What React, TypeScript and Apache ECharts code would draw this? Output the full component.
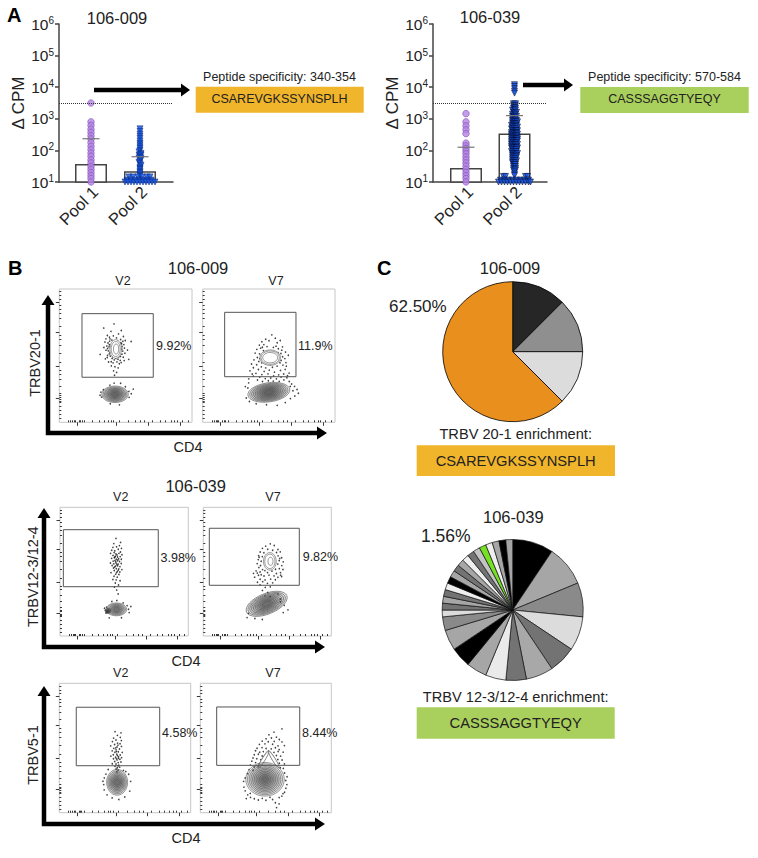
import React, { useEffect, useRef } from "react";
import * as echarts from "echarts";

const FONT = "Liberation Sans";
const INK = "#222";

// ---------- Panel A data ----------
const poolNames = ["Pool 1", "Pool 2"];
const threshold = 3162;
const aLeftPositions = [32, 81];
const aLeftMeans = [37, 22];
const aLeftSd = [234, 63];
const aLeftPool1 = [3162, 800, 620, 470, 370, 290, 230, 175, 135, 105, 82, 65, 50, 40, 31, 25, 20, 16, 13, 10];
const aLeftPool2Rows: [number, number[]][] = [
  [480, [0]], [400, [0]], [330, [0]], [280, [0]], [240, [0]], [200, [0]], [170, [0]], [150, [0]],
  [130, [0]], [115, [0]], [100, [0]], [90, [-1]], [80, [1]], [72, [-1, 1]], [65, [0]],
  [58, [-1, 1]], [52, [1]], [47, [0]], [42, [-1]], [38, [0]], [34, [1]], [30, [0]], [27, [0]],
  [25, [0]], [22, [0]], [20, [0]], [18, [0]], [16, [0]],
  [14.5, [-11, -7, -2, 2, 7, 10]],
  [11.5, [-13, -9, -5, -1, 3, 7, 11]],
  [10, [-15, -12, -9, -6, -3, 0, 3, 6, 9, 12, 15]],
];
const aRightPositions = [33, 81.5];
const aRightMeans = [27.5, 343];
const aRightSd = [126, 1260];
const aRightPool1 = [1460, 800, 600, 450, 340, 170, 140, 115, 95, 78, 62, 50, 40, 32, 25, 20, 16, 13, 10];
const aRightPool2Rows: [number, number[]][] = [
  [12000, [0]], [10500, [0]], [9000, [0]], [7500, [0]], [6500, [0]],
  [3000, [-1, 1]], [2600, [-1, 1]], [2200, [-1, 0, 1]], [1900, [-2, 0, 1]], [1600, [-1, 0, 2]],
  [1400, [-2, 0, 1]], [1200, [-2, -1, 0, 2]], [1050, [-2, 0, 1]], [900, [-2, -1, 1, 2]],
  [800, [-2, 0, 1, 3]], [700, [-2, -1, 0, 2]], [620, [-3, -1, 1, 2]], [550, [-2, -1, 1, 3]],
  [480, [-3, -2, 0, 2]], [420, [-2, -1, 1, 2, 3]], [370, [-3, -1, 1, 2]], [330, [-3, -2, 0, 2, 3]],
  [290, [-3, -1, 1, 2]], [260, [-3, -2, -1, 1, 3]], [230, [-3, -1, 1, 2, 3]], [200, [-3, -2, 0, 2, 3]],
  [175, [-3, -1, 1, 2]], [155, [-3, -2, 0, 1, 3]], [135, [-3, -1, 1, 2]], [120, [-3, -2, 0, 2, 3]],
  [105, [-2, -1, 1, 2]], [92, [-3, -1, 1, 2]], [80, [-2, -1, 1, 3]], [70, [-2, -1, 1, 2]], [62, [-2, 0, 2]],
  [54, [-2, -1, 1]], [47, [-2, 0, 2]], [41, [-2, -1, 1]], [36, [-1, 0, 1]], [31, [-1, 1]], [27, [-1, 1]],
  [24, [-1, 1]], [21, [0]], [18, [0]], [16, [0]],
  [15, [-11, -9, 11, 13]],
  [11.5, [-14, -10, -6, -2, 2, 6, 10, 14]],
  [10, [-16, -13, -10, -7, -4, -1, 2, 5, 8, 11, 14, 16]],
];

// ---------- Panel B data: gates [x0,y0,x1,y1], contours [cx,cy,rx,ry,rotation,fillAlpha], dots [x,y] ----------
const flowMajorX = [13.5, 43, 67, 91];
const flowMinorX = [7, 8.5, 10, 11, 12, 15, 16, 17, 19, 25, 30, 34, 37, 39, 41, 45, 52, 57, 61, 64, 70, 76, 80, 84, 87, 89, 93, 97];
const flowMajorY = [18, 42, 67.5, 90];
const flowMinorY = [3, 6, 9, 12, 15, 16, 17, 19, 20, 22, 27, 32, 36, 39, 45, 52, 58, 62, 65, 72, 78, 82, 85, 88, 92, 95, 98];

const gate1 = [[17.1, 33.8, 70.8, 81.5]];
const contours1 = [
  [42.5, 55, 4.4, 7, 0, 0], [42.5, 55, 3.4, 5.6, 0, 0], [42.8, 55, 2, 3.8, 0, 0],
  [42, 21, 10, 6.2, 0, 0.1], [42, 21, 9, 5.5, 0, 0.1], [42, 21, 8, 4.9, 0, 0.12], [42, 21, 7, 4.3, 0, 0.12], [42, 21, 6, 3.7, 0, 0.12],
  [42, 21, 5, 3.1, 0, 0.12], [42, 21, 4, 2.5, 0, 0.12], [42, 21, 3, 1.9, 0, 0.12], [42, 21, 2, 1.2, 0, 0.12],
];
const dots1 = [
  [33.5, 70.7], [41.2, 73.8], [44.6, 66.3], [38.9, 68.2], [46.7, 68.9], [36.2, 65.1], [48.3, 64.4], [35.1, 62.6], [37.8, 63.9], [39.6, 61.7], [43.1, 63.3], [46.2, 62.1],
  [47.9, 60.8], [34.4, 60.2], [36.7, 59.5], [37.9, 60.9], [48.6, 58.3], [49.7, 61.4], [35.8, 57.2], [33.6, 56.1], [37.4, 56.6], [47.3, 56.9], [49.1, 55.7], [51.4, 54.2],
  [35.2, 54.1], [36.9, 53.6], [37.6, 51.3], [47.8, 53.4], [49.4, 51.8], [36.3, 50.2], [38.4, 49.7], [46.1, 49.4], [48.2, 48.8], [34.7, 47.6], [39.8, 47.9], [41.3, 46.8],
  [44.2, 47.3], [45.9, 46.4], [37.1, 45.2], [40.5, 44.6], [43.4, 45.3], [45.2, 43.9], [39.2, 42.3], [41.9, 41.7], [44.3, 40.8], [40.9, 38.6], [43.2, 37.4], [41.6, 35.3],
  [30.8, 50.9], [52.3, 47.2], [54.1, 60.6], [38.3, 52.6], [47.2, 51.1], [36.1, 48.6], [48.9, 46.3], [39.1, 45.4], [46.6, 44.8], [38.2, 62.6], [46.4, 59.7], [40.7, 64.8],
  [43.9, 60.9], [37.7, 58.2], [47.1, 54.8], [36.4, 55.4], [38.7, 56.9], [46.9, 58.9], [44.8, 49.1], [40.2, 49.3], [42.6, 47.9],
  [30.7, 20.3], [31.3, 22.6], [31.9, 18.9], [33.2, 24.4], [49.8, 26.7], [52.4, 23.2], [46.2, 29.3], [38.1, 27.9], [52.6, 18.7], [45.3, 13.1], [38.4, 13.9], [54.2, 21.4], [55.7, 24.9], [41.3, 29.4],
];
const gate2 = [[16.6, 34.2, 70.5, 82.5]];
const contours2 = [
  [51, 48.5, 7.8, 5.8, 0, 0], [51, 48.5, 6.9, 5, 0, 0], [51, 48.5, 5.6, 3.9, 0, 0],
  [50, 22.5, 16, 7.2, 8, 0.08], [50, 22.5, 14.6, 6.5, 8, 0.1], [50, 22.5, 13.2, 5.9, 8, 0.1], [50, 22.5, 11.8, 5.3, 8, 0.1], [50, 22.5, 10.4, 4.7, 8, 0.1],
  [50, 22.5, 9, 4.1, 8, 0.12], [50, 22.5, 7.6, 3.5, 8, 0.12], [50, 22.5, 6.2, 2.9, 8, 0.12], [50, 22.5, 4.8, 2.2, 8, 0.12], [50, 22.5, 3.4, 1.5, 8, 0.12],
];
const dots2 = [
  [52.2, 65.6], [47.6, 62.3], [54.9, 63.1], [44.7, 60.4], [50.1, 61.2], [56.3, 59.7], [58.6, 61.4], [42.8, 57.9], [46.2, 58.3], [55.4, 57.1], [60.3, 56.6], [40.9, 54.7],
  [43.8, 55.6], [45.9, 53.8], [57.2, 55.2], [59.7, 54.1], [62.6, 52.7], [39.6, 51.9], [42.9, 51.3], [59.1, 51.6], [41.3, 48.6], [43.3, 47.7], [60.4, 49.2], [62.1, 47.8],
  [64.7, 50.3], [38.7, 46.8], [42.4, 45.6], [59.3, 46.4], [62.9, 44.8], [36.9, 43.7], [40.8, 43.2], [44.3, 41.6], [47.6, 40.8], [52.7, 41.3], [56.2, 42.1], [60.6, 42.9],
  [38.3, 40.9], [42.1, 39.6], [46.4, 38.2], [50.3, 39.1], [54.2, 37.6], [58.8, 38.9], [62.3, 39.7], [35.7, 38.6], [40.2, 36.7], [44.7, 35.8], [49.3, 36.3], [53.6, 34.7],
  [57.4, 35.6], [61.2, 36.2], [65.3, 36.9], [38.2, 34.6], [43.1, 33.9], [47.3, 32.8], [51.4, 33.2], [55.7, 32.6], [59.2, 33.9], [63.6, 33.4], [34.8, 32.6], [41.4, 31.7],
  [45.2, 30.6], [49.6, 31.2], [53.3, 30.9], [57.8, 30.7], [61.3, 31.8], [65.4, 30.6], [67.2, 28.7], [69.4, 26.9], [71.3, 24.6], [68.2, 23.7], [72.3, 21.8], [69.6, 19.7],
  [66.3, 17.8], [66.2, 26.9], [34.7, 29.6], [32.2, 26.8], [34.1, 25.7], [32.9, 18.2], [35.3, 15.6], [40.4, 13.9], [48.2, 13.2], [56.3, 12.7], [62.4, 14.8],
  [45.1, 56.3], [48.6, 56.8], [53.4, 56.2], [56.9, 52.2], [44.6, 44.6], [58.4, 44.7], [51.2, 43.3], [47.9, 44.2], [54.3, 44.6], [37.4, 36.2], [63.2, 42.1], [64.1, 34.9],
];
const gate3 = [[2.6, 38.3, 76.6, 82.6]];
const contours3 = [
  [44, 20.7, 8, 5, 0, 0.1], [44, 20.7, 7, 4.4, 0, 0.12], [44, 20.7, 6, 3.8, 0, 0.12], [44, 20.7, 5, 3.1, 0, 0.12], [44, 20.7, 4, 2.5, 0, 0.12], [44, 20.7, 3, 1.9, 0, 0.12], [44, 20.7, 2, 1.2, 0, 0.12],
  [37.5, 19.5, 2.2, 2, 0, 0.5], [37, 19, 1.4, 1.2, 0, 0.6],
];
const dots3 = [
  [43.6, 75.8], [47.2, 72.7], [41.9, 71.8], [46.3, 70.2], [41.2, 68.9], [44.1, 69.3], [47.9, 68.1], [40.3, 66.6], [42.7, 66.2], [45.4, 67.4], [47.1, 65.3], [39.4, 64.2],
  [42.2, 64.9], [43.6, 63.7], [45.9, 64.2], [48.3, 63.1], [41.3, 62.6], [43.1, 62.1], [44.8, 61.4], [46.9, 61.7], [40.2, 60.3], [42.3, 60.8], [43.8, 59.7], [45.7, 60.1],
  [47.8, 59.6], [41.4, 58.2], [42.9, 58.7], [44.6, 58.4], [46.4, 57.9], [39.3, 56.7], [41.9, 56.1], [43.7, 56.6], [45.3, 55.9], [47.7, 56.3], [40.6, 54.8], [43.2, 54.3],
  [44.9, 54.6], [46.7, 53.9], [41.7, 52.8], [43.9, 52.3], [45.8, 52.1], [48.2, 51.6], [42.3, 50.9], [44.7, 50.2], [46.6, 49.7], [39.7, 49.2], [43.4, 48.1], [45.9, 47.8],
  [42.1, 46.4], [44.6, 45.7], [41.2, 43.9], [43.7, 43.6], [46.8, 42.9], [43.1, 41.2], [45.6, 39.6], [42.4, 38.1], [44.2, 35.7], [45.3, 32.6],
  [44.4, 62.9], [42.8, 61.4], [45.2, 59.2], [43.3, 57.6], [44.3, 55.4], [42.6, 53.6], [45.4, 51.2], [44.1, 49.3],
  [36.3, 22.4], [35.8, 17.9], [35.2, 20.1], [52.3, 23.6], [53.4, 20.8], [53.9, 18.2], [49.2, 25.7], [40.4, 26.8], [44.3, 27.6], [47.9, 14.2], [38.3, 14.1], [55.2, 22.9], [34.7, 21.6],
];
const gate4 = [[4.7, 39.4, 75, 83.7]];
const contours4 = [
  [52, 58, 5, 6.8, 0, 0], [52, 58, 4, 5.6, 0, 0], [52.5, 58, 2, 3.2, 0, 0],
  [49.5, 25, 17, 8, 22, 0.06], [49.5, 25, 15.5, 7.2, 22, 0.08], [49.5, 25, 14, 6.5, 22, 0.08], [49.5, 25, 12.5, 5.8, 22, 0.08], [49.5, 25, 11, 5.1, 22, 0.08],
  [49.5, 25, 9.5, 4.4, 22, 0.1], [49.5, 25, 8, 3.7, 22, 0.1], [49.5, 25, 6.5, 3, 22, 0.1], [49.5, 25, 5, 2.3, 22, 0.12], [49.5, 25, 3.5, 1.5, 22, 0.12],
];
const dots4 = [
  [52.3, 71.6], [48.7, 69.8], [55.4, 70.3], [46.2, 68.1], [50.3, 67.4], [54.2, 66.6], [58.3, 67.2], [44.4, 65.3], [47.3, 64.7], [57.2, 64.9], [60.1, 65.4], [43.2, 62.4],
  [46.1, 61.7], [58.4, 62.3], [61.2, 60.8], [42.9, 59.3], [45.2, 58.1], [59.3, 58.7], [62.4, 57.6], [42.1, 56.2], [44.7, 54.8], [58.2, 55.9], [61.3, 54.7], [43.4, 53.2],
  [46.3, 51.6], [48.1, 50.8], [56.4, 51.9], [59.4, 52.3], [62.2, 51.7], [41.2, 50.6], [44.3, 49.7], [50.2, 49.3], [53.6, 50.4], [57.1, 48.6], [60.3, 49.2], [39.2, 48.7],
  [43.1, 47.2], [47.4, 46.6], [51.3, 47.3], [55.2, 46.7], [58.3, 45.6], [61.2, 46.2], [40.1, 45.7], [44.4, 44.1], [48.2, 43.6], [52.6, 44.2], [56.3, 43.7], [42.3, 41.8],
  [46.4, 42.2], [50.1, 40.9], [54.2, 41.3], [44.3, 39.7], [48.4, 37.8], [52.3, 38.2], [46.2, 35.4], [50.3, 33.8], [48.1, 31.2], [52.2, 30.7], [60.3, 26.4], [63.2, 23.8],
  [66.1, 20.3], [62.4, 18.2], [35.3, 17.6], [34.2, 14.3], [40.3, 13.6], [46.1, 12.8], [60.2, 28.7], [58.3, 32.6], [45.2, 47.6], [60.4, 47.3], [42.2, 48.9], [43.6, 61.2], [59.7, 60.3],
];
const gate5 = [[12.9, 36.3, 76.4, 81.5]];
const contours5 = [
  [44, 23.5, 8, 10, 0, 0.1], [44, 23.5, 7.1, 8.9, 0, 0.1], [44, 23.5, 6.2, 7.8, 0, 0.12], [44, 23.5, 5.3, 6.7, 0, 0.12], [44, 23.5, 4.4, 5.6, 0, 0.12], [44, 23.5, 3.5, 4.5, 0, 0.12], [44, 23.5, 2.6, 3.3, 0, 0.12], [44, 23.5, 1.6, 2.2, 0, 0.12],
];
const dots5 = [
  [44.2, 59.8], [41.3, 57.6], [46.4, 58.2], [43.1, 56.2], [47.2, 55.7], [40.4, 54.9], [44.3, 53.8], [42.1, 52.7], [46.2, 53.3], [39.1, 51.6], [43.9, 50.8], [47.3, 51.2],
  [41.4, 49.7], [43.2, 48.6], [45.8, 49.2], [40.2, 47.8], [42.3, 46.7], [44.9, 47.1], [47.9, 46.6], [41.1, 44.8], [43.7, 45.3], [46.3, 44.6], [39.2, 43.7], [42.8, 42.9],
  [45.1, 43.2], [47.4, 42.6], [41.2, 41.7], [43.9, 40.8], [46.1, 41.3], [42.2, 39.6], [44.8, 38.7], [46.9, 39.2], [40.3, 37.8], [43.1, 37.6], [45.2, 36.7], [42.4, 35.8],
  [44.1, 34.7], [45.9, 35.2], [43.2, 33.8], [44.7, 32.9], [43.8, 31.6], [37.2, 33.4], [48.8, 32.7], [35.4, 29.8], [34.2, 26.9], [33.8, 21.7], [34.1, 17.6], [33.2, 24.3],
  [36.3, 13.8], [40.2, 11.4], [45.3, 10.2], [49.8, 12.1], [53.6, 16.7], [54.3, 24.2], [52.8, 29.7], [50.6, 31.8], [46.9, 61.7], [42.4, 62.6],
  [44.6, 52.2], [43.4, 47.2], [44.2, 44.2], [43.3, 41.8], [44.7, 36.3], [42.9, 50.1], [44.9, 42.1],
];
const gate6 = [[12.5, 36.6, 75.9, 81.7]];
const contours6 = [
  [48.6, 42, 1, 7, -30, 0], [55.6, 42, 1, 7, 30, 0], [48.2, 41, 1.2, 7.5, -32, 0], [56.2, 41, 1.2, 7.5, 32, 0],
  [49.4, 25.8, 14.7, 13, 0, 0.06], [49.4, 25.8, 13.4, 11.9, 0, 0.08], [49.4, 25.8, 12.1, 10.8, 0, 0.08], [49.4, 25.8, 10.8, 9.7, 0, 0.08], [49.4, 25.8, 9.5, 8.6, 0, 0.08],
  [49.4, 25.8, 8.2, 7.5, 0, 0.08], [49.4, 25.8, 6.9, 6.3, 0, 0.1], [49.4, 25.8, 5.6, 5.1, 0, 0.1], [49.4, 25.8, 4.3, 3.9, 0, 0.1], [49.4, 25.8, 3, 2.7, 0, 0.1], [49.4, 25.8, 1.7, 1.5, 0, 0.1],
];
const dots6 = [
  [62.3, 64.8], [56.2, 62.3], [52.4, 60.2], [58.1, 58.4], [54.3, 57.7], [50.2, 57.1], [60.3, 56.6], [47.2, 55.3], [51.8, 54.8], [56.4, 55.1], [62.3, 54.7], [45.1, 52.8],
  [49.3, 53.2], [55.2, 52.9], [59.3, 51.6], [64.2, 51.8], [43.3, 49.8], [47.1, 50.3], [50.2, 49.6], [54.1, 49.3], [57.3, 50.2], [60.2, 48.8], [42.2, 47.9], [45.3, 46.7],
  [48.1, 47.2], [56.2, 46.6], [59.4, 47.3], [63.2, 46.8], [41.2, 44.8], [44.3, 45.2], [47.2, 43.8], [58.1, 44.2], [61.3, 43.7], [40.2, 42.3], [43.1, 41.7], [46.2, 40.9],
  [59.2, 41.1], [62.4, 40.7], [39.3, 39.8], [42.2, 38.7], [45.1, 37.6], [60.3, 38.2], [64.2, 37.7], [38.2, 36.8], [44.2, 35.9], [61.1, 34.7], [37.2, 33.3], [40.2, 32.8],
  [36.1, 30.2], [64.3, 30.7], [34.2, 26.8], [66.2, 27.8], [33.1, 24.2], [65.2, 24.9], [33.3, 19.8], [66.1, 21.7], [34.2, 16.9], [65.3, 18.9], [36.2, 13.8], [63.1, 14.7],
  [38.3, 11.8], [41.2, 10.8], [60.2, 11.7], [44.3, 9.8], [50.1, 9.6], [55.2, 10.2], [57.3, 7.7], [60.1, 6.8], [58.2, 3.9], [38.1, 14.9], [62.2, 12.8], [35.1, 10.9],
  [47.3, 11.1], [53.2, 11.9], [64.3, 15.8], [63.4, 34.2], [41.1, 35.4],
];

const flowPanels = [
  { frame: [59.3, 289, 192, 422.3], gate: gate1, contours: contours1, dots: dots1 },
  { frame: [202.7, 289, 335, 422.3], gate: gate2, contours: contours2, dots: dots2 },
  { frame: [60, 507.3, 188.3, 636], gate: gate3, contours: contours3, dots: dots3 },
  { frame: [203.3, 507.3, 331.3, 636], gate: gate4, contours: contours4, dots: dots4 },
  { frame: [59.3, 683.3, 190.7, 812.7], gate: gate5, contours: contours5, dots: dots5 },
  { frame: [200.3, 683.3, 331.3, 812.7], gate: gate6, contours: contours6, dots: dots6 },
];

// ---------- Panel C data (slices in 64ths / 8ths) ----------
const pieA = [
  { value: 12.5, color: "#262626" },
  { value: 12.5, color: "#8f8f8f" },
  { value: 12.5, color: "#dcdcdc" },
  { value: 62.5, color: "#E88F1E" },
];
const pieBValues = [6, 6, 5, 5, 4, 4, 3, 3, 3, 3, 3, 2, 1, 1, 1, 1, 1, 1, 1, 1, 1, 1, 1, 1, 1, 1, 1, 1, 1];
const pieBColors = [
  "#000000", "#a6a6a6", "#8a8a8a", "#dcdcdc", "#737373", "#a8a8a8", "#737373", "#eaeaea", "#a6a6a6", "#000000",
  "#a6a6a6", "#8a8a8a", "#dcdcdc", "#737373", "#a6a6a6", "#737373", "#eeeeee", "#000000", "#a6a6a6", "#737373",
  "#a6a6a6", "#eeeeee", "#737373", "#c4c4c4", "#76E025", "#eeeeee", "#a6a6a6", "#000000", "#a6a6a6",
];

// ---------- helpers ----------
const tri = "path://M0,0 L10,0 L5,10 Z";
const flat = (rows: [number, number[]][], cx: number) =>
  rows.flatMap(([v, offs]) => offs.map((o) => [cx + o, v]));

const txt = (text: string, x: number, y: number, size: number, extra: any = {}) => ({
  type: "text",
  x,
  y,
  silent: true,
  rotation: extra.rotation || 0,
  style: {
    text,
    fontFamily: FONT,
    fontSize: size,
    fontWeight: extra.weight || "normal",
    fill: extra.fill || INK,
    align: extra.align || "center",
    verticalAlign: "middle",
  },
});
const box = (x0: number, y0: number, x1: number, y1: number, fill: string) => ({
  type: "rect",
  shape: { x: x0, y: y0, width: x1 - x0, height: y1 - y0 },
  style: { fill },
  silent: true,
});
const stroke = (pts: number[][], w = 4) => ({
  type: "polyline",
  shape: { points: pts },
  style: { stroke: "#000", lineWidth: w, fill: "none" },
  silent: true,
});
const head = (x: number, y: number, dir: "right" | "up", len = 10, half = 6.5) => ({
  type: "polygon",
  shape: {
    points:
      dir === "right"
        ? [[x, y], [x - len, y - half], [x - len, y + half]]
        : [[x, y], [x - half, y + len], [x + half, y + len]],
  },
  style: { fill: "#000" },
  silent: true,
});
const lArrow = (x: number, top: number, y: number, right: number) => [
  stroke([[x, top + 8], [x, y], [right - 8, y]], 4.5),
  head(right, y, "right"),
  head(x, top, "up"),
];

function buildOption() {
  const grid: any[] = [];
  const xAxis: any[] = [];
  const yAxis: any[] = [];
  const series: any[] = [];

  // Panel A
  const addBars = (
    left: number,
    positions: number[],
    means: number[],
    sd: number[],
    pool1: number[],
    pool2: number[][],
    pool2Border: string,
  ) => {
    const g = grid.length;
    grid.push({ left, width: 114, top: 24, height: 158 });
    const labelAt = positions.map((p) => p + 4);
    xAxis.push({
      type: "value",
      gridIndex: g,
      min: 0,
      max: 114,
      splitLine: { show: false },
      axisLine: { lineStyle: { color: "#444", width: 1.5 } },
      axisTick: { show: false },
      axisLabel: {
        customValues: labelAt,
        rotate: 45,
        margin: 7,
        fontFamily: FONT,
        fontSize: 16.5,
        color: INK,
        formatter: (v: number) => poolNames[labelAt.indexOf(v)] ?? "",
      },
    });
    yAxis.push({
      type: "log",
      logBase: 10,
      gridIndex: g,
      min: 10,
      max: 1000000,
      name: "Δ CPM",
      nameLocation: "middle",
      nameGap: 28,
      nameTextStyle: { fontFamily: FONT, fontSize: 17, color: INK },
      splitLine: { show: false },
      axisLine: { show: true, lineStyle: { color: "#444", width: 1.5 } },
      axisTick: { show: true, length: 4, lineStyle: { color: "#444", width: 1.5 } },
      axisLabel: {
        margin: 5,
        fontFamily: FONT,
        color: INK,
        formatter: (v: number) => `{b|10}{s|${Math.round(Math.log10(v))}}`,
        rich: {
          b: { fontFamily: FONT, fontSize: 15.5, color: INK },
          s: { fontFamily: FONT, fontSize: 10, color: INK, verticalAlign: "top", padding: [0, 0, 7, 0] },
        },
      },
    });
    series.push({
      type: "bar",
      xAxisIndex: g,
      yAxisIndex: g,
      barWidth: 32,
      itemStyle: { color: "#fff", borderColor: "#444", borderWidth: 1.5 },
      data: positions.map((p, i) => [p, means[i]]),
      z: 2,
    });
    series.push({
      type: "scatter",
      xAxisIndex: g,
      yAxisIndex: g,
      symbol: tri,
      symbolSize: 6,
      itemStyle: { color: "#1557E6", borderColor: pool2Border, borderWidth: 0.7 },
      data: pool2,
      clip: false,
      z: 3,
    });
    series.push({
      type: "scatter",
      xAxisIndex: g,
      yAxisIndex: g,
      symbol: "circle",
      symbolSize: 6.5,
      itemStyle: { color: "#B583E4", borderColor: "#7f50b8", borderWidth: 0.8 },
      data: pool1.map((v) => [positions[0], v]),
      clip: false,
      z: 3,
      markLine: {
        silent: true,
        symbol: "none",
        label: { show: false },
        lineStyle: { color: "#333", type: "dotted", width: 1 },
        data: [{ yAxis: threshold }],
      },
    });
    series.push({
      type: "custom",
      xAxisIndex: g,
      yAxisIndex: g,
      coordinateSystem: "cartesian2d",
      clip: false,
      z: 4,
      encode: { x: 0, y: 2 },
      data: positions.map((p, i) => [p, means[i], sd[i]]),
      renderItem: (_: any, api: any) => {
        const b = api.coord([api.value(0), api.value(2)]);
        return {
          type: "line",
          shape: { x1: b[0] - 8.5, y1: b[1], x2: b[0] + 8.5, y2: b[1] },
          style: { stroke: "#777", lineWidth: 1.2 },
        };
      },
    });
  };
  addBars(59, aLeftPositions, aLeftMeans, aLeftSd, aLeftPool1, flat(aLeftPool2Rows, aLeftPositions[1]), "#0a2a80");
  addBars(433, aRightPositions, aRightMeans, aRightSd, aRightPool1, flat(aRightPool2Rows, aRightPositions[1]), "#050a30");

  // Panel B
  flowPanels.forEach((p) => {
    const g = grid.length;
    const [x0, y0, x1, y1] = p.frame;
    grid.push({ left: x0, top: y0, width: x1 - x0, height: y1 - y0, show: true, borderColor: "#c6c6c6", borderWidth: 1, backgroundColor: "#fff" });
    const base = { gridIndex: g, type: "value", min: 0, max: 100, splitLine: { show: false }, axisLine: { show: false }, axisLabel: { show: false } };
    const major = xAxis.length;
    const tickStyle = (len: number, customValues: number[]) => ({
      show: true,
      length: len,
      customValues,
      lineStyle: { color: "#222", width: 0.9 },
    });
    xAxis.push({ ...base, axisTick: tickStyle(3.5, flowMajorX) });
    yAxis.push({ ...base, axisTick: tickStyle(3.5, flowMajorY) });
    xAxis.push({ ...base, axisTick: tickStyle(2, flowMinorX) });
    yAxis.push({ ...base, axisTick: tickStyle(2, flowMinorY) });
    series.push({
      type: "scatter",
      xAxisIndex: major,
      yAxisIndex: major,
      symbolSize: 1.6,
      itemStyle: { color: "#111" },
      data: p.dots,
      z: 2,
    });
    series.push({
      type: "custom",
      xAxisIndex: major,
      yAxisIndex: major,
      coordinateSystem: "cartesian2d",
      clip: false,
      z: 3,
      encode: { x: 0, y: 1 },
      data: p.contours,
      renderItem: (_: any, api: any) => {
        const c = api.coord([api.value(0), api.value(1)]);
        const s = api.size([api.value(2), api.value(3)]);
        const a = api.value(5);
        return {
          type: "ellipse",
          x: c[0],
          y: c[1],
          rotation: (api.value(4) * Math.PI) / 180,
          shape: { cx: 0, cy: 0, rx: s[0], ry: s[1] },
          style: { fill: a > 0 ? `rgba(30,30,30,${a})` : "#fff", stroke: "#555", lineWidth: 0.6 },
        };
      },
    });
    series.push({
      type: "custom",
      xAxisIndex: major,
      yAxisIndex: major,
      coordinateSystem: "cartesian2d",
      clip: false,
      z: 4,
      encode: { x: [0, 2], y: [1, 3] },
      data: p.gate,
      renderItem: (_: any, api: any) => {
        const a = api.coord([api.value(0), api.value(1)]);
        const b = api.coord([api.value(2), api.value(3)]);
        return {
          type: "rect",
          shape: { x: a[0], y: b[1], width: b[0] - a[0], height: a[1] - b[1] },
          style: { fill: "none", stroke: "#555", lineWidth: 1 },
        };
      },
    });
  });

  // Panel C
  series.push({
    type: "pie",
    center: [512.7, 351.7],
    radius: [0, 70],
    startAngle: 90,
    clockwise: true,
    silent: true,
    label: { show: false },
    labelLine: { show: false },
    itemStyle: { borderColor: "#000", borderWidth: 0.8 },
    data: pieA.map((d) => ({ value: d.value, itemStyle: { color: d.color } })),
  });
  series.push({
    type: "pie",
    center: [512.7, 610],
    radius: [0, 70.5],
    startAngle: 90,
    clockwise: true,
    silent: true,
    label: { show: false },
    labelLine: { show: false },
    itemStyle: { borderColor: "#111", borderWidth: 0.7 },
    data: pieBValues.map((v, i) => ({ value: v, itemStyle: { color: pieBColors[i] } })),
  });

  const elements: any[] = [
    txt("A", 7, 15, 20, { weight: "bold", align: "left", fill: "#000" }),
    txt("B", 8, 268, 20, { weight: "bold", align: "left", fill: "#000" }),
    txt("C", 377, 268, 20, { weight: "bold", align: "left", fill: "#000" }),

    txt("106-009", 117, 18, 16.5),
    txt("106-039", 490, 17, 16.5),
    stroke([[94, 90], [182, 90]], 4.5),
    head(190, 90, "right", 9, 6.5),
    stroke([[523, 85], [565, 85]], 4.5),
    head(573, 85, "right", 9, 6.5),
    box(195.7, 86.7, 363.7, 112.7, "#F0B52B"),
    txt("Peptide specificity: 340-354", 279.5, 77, 12.5),
    txt("CSAREVGKSSYNSPLH", 279.5, 99, 12.5),
    box(580.3, 87, 748.7, 113, "#A9CF5C"),
    txt("Peptide specificity: 570-584", 664.5, 77, 12.5),
    txt("CASSSAGGTYEQY", 664.5, 99, 12.5),

    txt("106-009", 198, 268, 16.5),
    txt("V2", 123, 281, 12.5),
    txt("V7", 276, 281, 12.5),
    txt("9.92%", 156, 346, 12.5, { align: "left" }),
    txt("11.9%", 298, 346, 12.5, { align: "left" }),
    txt("TRBV20-1", 35, 363, 14.5, { rotation: Math.PI / 2 }),
    txt("CD4", 188, 447, 14.5),
    ...lArrow(48, 295, 433, 327),

    txt("106-039", 195.7, 485.7, 16.5),
    txt("V2", 120.7, 496.7, 12.5),
    txt("V7", 273, 496.7, 12.5),
    txt("3.98%", 160.5, 557.7, 12.5, { align: "left" }),
    txt("9.82%", 302.7, 557, 12.5, { align: "left" }),
    txt("TRBV12-3/12-4", 33, 576.7, 14.5, { rotation: Math.PI / 2 }),
    txt("CD4", 186, 661, 14.5),
    ...lArrow(44, 508, 647, 325),

    txt("V2", 120.7, 672.7, 12.5),
    txt("V7", 273, 672.7, 12.5),
    txt("4.58%", 162, 733.3, 12.5, { align: "left" }),
    txt("8.44%", 302, 733.3, 12.5, { align: "left" }),
    txt("TRBV5-1", 33, 755, 14.5, { rotation: Math.PI / 2 }),
    txt("CD4", 186, 837.7, 14.5),
    ...lArrow(44, 686, 824, 325),

    txt("106-009", 510, 268, 16.5),
    txt("62.50%", 389, 306.7, 17, { align: "left" }),
    txt("TRBV 20-1 enrichment:", 515.7, 434, 14.6),
    box(416.7, 445.3, 615, 476, "#F0B52B"),
    txt("CSAREVGKSSYNSPLH", 515.7, 460.7, 14.7),

    txt("106-039", 513.3, 516.7, 16.5),
    txt("1.56%", 421, 536, 17.5, { align: "left" }),
    txt("TRBV 12-3/12-4 enrichment:", 515.7, 696.7, 14.6),
    box(416.7, 707.3, 614.7, 738.7, "#A9CF5C"),
    txt("CASSSAGGTYEQY", 515.7, 723, 14.7),
  ];

  return {
    animation: false,
    backgroundColor: "#fff",
    textStyle: { fontFamily: FONT },
    grid,
    xAxis,
    yAxis,
    series,
    graphic: { elements },
  };
}

export default function App() {
  const ref = useRef<HTMLDivElement>(null);
  useEffect(() => {
    document.body.style.margin = "0";
    const chart = echarts.init(ref.current!, undefined, { renderer: "svg" });
    chart.setOption(buildOption() as any);
    return () => chart.dispose();
  }, []);
  return <div ref={ref} style={{ width: 758, height: 858 }} />;
}
